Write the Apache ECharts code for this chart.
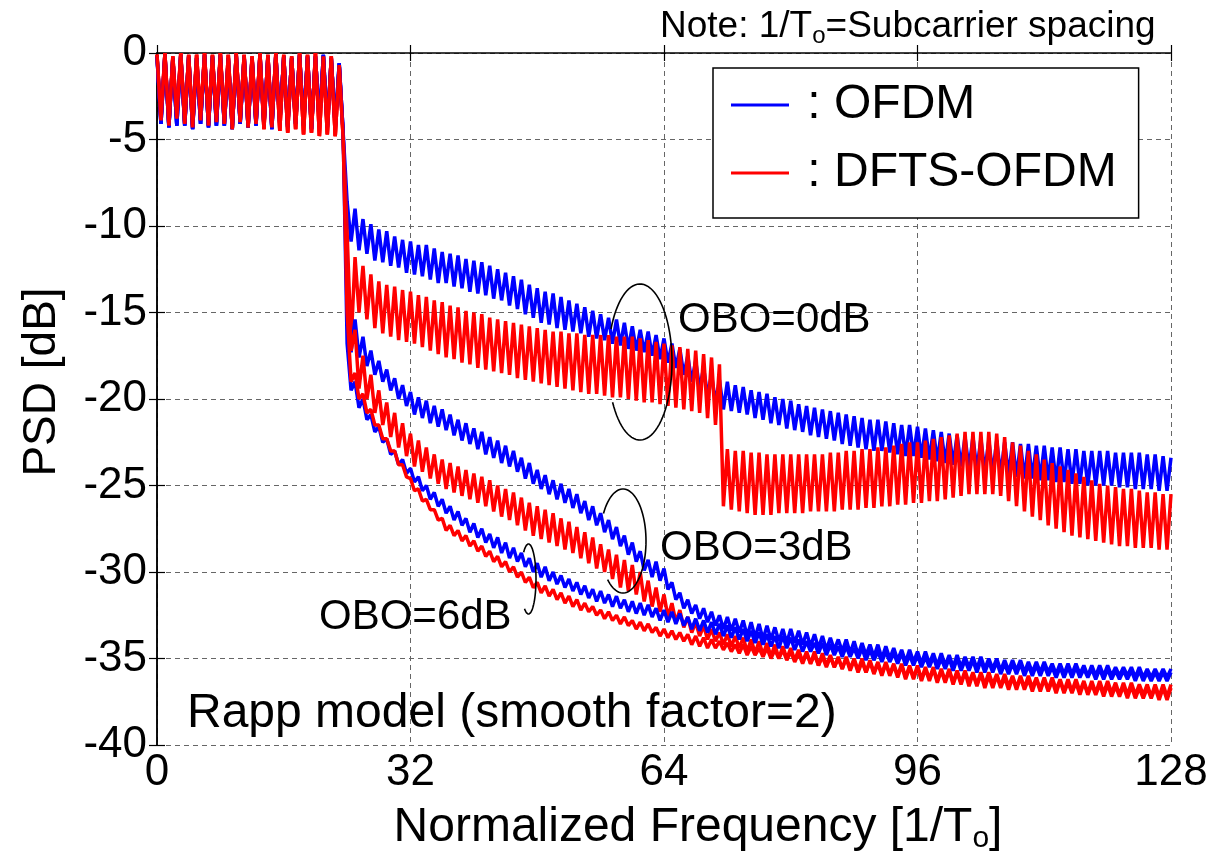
<!DOCTYPE html>
<html>
<head>
<meta charset="utf-8">
<title>PSD OFDM vs DFTS-OFDM</title>
<script src="https://cdn.jsdelivr.net/npm/echarts@6/dist/echarts.min.js"></script>
<style>
  html, body { margin: 0; padding: 0; background: #fff; }
  #chart { width: 1218px; height: 856px; }
</style>
</head>
<body>
<div id="chart"></div>
<script>
// sampling step along the normalized frequency axis [1/To]
const STEP = 0.5;

// in-band part, x = 0 .. 23.5 (shared by all OBO curves of one waveform)
const topOfdm = [
  -0.2,-4.1, -0.1,-4.3, -0.3,-4.2, -0.1,-4.2, -0.2,-4.4, -0.3,-4.1, -0.1,-4.3, -0.2,-4.2,
  -0.1,-4.2, -0.3,-4.4, -0.1,-4.1, -0.2,-4.3, -0.3,-4.2, -0.1,-4.2, -0.2,-4.4, -0.1,-4.1,
  -0.2,-4.3, -0.3,-4.1, -0.1,-4.2, -0.2,-4.4, -0.2,-4.1, -0.1,-4.3, -0.3,-4.3, -0.6,-4.6
];
const topDfts = [
  -0.1,-3.9, 0.0,-4.2, -0.2,-3.8, 0.0,-4.1, -0.1,-4.3, -0.1,-3.9, 0.0,-4.2, -0.1,-4.0,
  0.0,-4.1, -0.1,-4.4, 0.0,-4.0, -0.1,-4.3, -0.2,-4.1, 0.0,-4.4, -0.1,-4.3, 0.0,-4.5,
  -0.1,-4.6, -0.2,-4.4, 0.0,-4.7, -0.1,-4.6, 0.0,-4.8, -0.2,-4.7, -0.2,-4.8, -0.7,-4.9
];

// out-of-band part, x = 24 .. 128
const ofdm0 = [
  -8.6,-10.9, -9.0,-11.4, -9.6,-11.6, -9.9,-12.0, -10.2,-12.1, -10.3,-12.3, -10.6,-12.4, -10.8,-12.7,
  -10.9,-12.8, -11.1,-12.9, -11.1,-13.1, -11.3,-13.3, -11.5,-13.3, -11.6,-13.5, -11.7,-13.6, -11.9,-13.8,
  -12.0,-13.9, -12.1,-14.0, -12.3,-14.2, -12.5,-14.3, -12.7,-14.6, -12.9,-14.8, -13.1,-15.1, -13.4,-15.3,
  -13.6,-15.6, -13.8,-15.7, -13.9,-15.9, -14.1,-16.0, -14.3,-16.1, -14.5,-16.2, -14.7,-16.4, -14.9,-16.5,
  -15.1,-16.6, -15.3,-16.8, -15.4,-16.9, -15.6,-17.1, -15.8,-17.2, -16.0,-17.3, -16.1,-17.5, -16.3,-17.7,
  -16.5,-17.9, -16.8,-18.2, -17.1,-18.6, -17.5,-19.0, -17.8,-19.4, -18.2,-19.8, -18.6,-20.2, -18.9,-20.6,
  -19.0,-20.7, -19.2,-20.8, -19.3,-20.9, -19.5,-21.1, -19.6,-21.2, -19.7,-21.4, -19.9,-21.5, -20.0,-21.7,
  -20.1,-21.8, -20.3,-21.9, -20.4,-22.1, -20.5,-22.2, -20.6,-22.3, -20.7,-22.4, -20.8,-22.6, -20.9,-22.7,
  -21.0,-22.8, -21.1,-22.9, -21.2,-23.0, -21.2,-23.0, -21.3,-23.1, -21.4,-23.2, -21.5,-23.3, -21.5,-23.3,
  -21.6,-23.4, -21.7,-23.5, -21.8,-23.6, -21.9,-23.7, -22.0,-23.8, -22.1,-23.9, -22.2,-24.0, -22.2,-24.1,
  -22.3,-24.2, -22.4,-24.3, -22.4,-24.4, -22.5,-24.4, -22.5,-24.5, -22.6,-24.6, -22.6,-24.6, -22.7,-24.7,
  -22.7,-24.7, -22.8,-24.8, -22.8,-24.8, -22.9,-24.9, -22.9,-24.9, -23.0,-25.0, -23.0,-25.0, -23.0,-25.0,
  -23.0,-25.0, -23.1,-25.1, -23.1,-25.1, -23.1,-25.2, -23.1,-25.2, -23.2,-25.2, -23.2,-25.3, -23.3,-25.3,
  -23.4
];
const dfts0 = [
  -10.4,-16.8, -11.8,-15.0, -12.3,-15.4, -12.8,-15.9, -13.2,-16.2, -13.4,-16.4, -13.5,-16.6, -13.7,-16.7,
  -13.8,-16.8, -14.0,-17.0, -14.1,-17.2, -14.3,-17.4, -14.4,-17.6, -14.6,-17.7, -14.7,-17.9, -14.9,-18.0,
  -15.0,-18.2, -15.1,-18.3, -15.3,-18.4, -15.4,-18.5, -15.5,-18.6, -15.6,-18.8, -15.7,-18.9, -15.8,-19.0,
  -15.9,-19.1, -16.0,-19.2, -16.1,-19.3, -16.1,-19.4, -16.2,-19.5, -16.2,-19.6, -16.3,-19.7, -16.3,-19.7,
  -16.3,-19.8, -16.3,-19.9, -16.4,-19.9, -16.4,-20.0, -16.4,-20.1, -16.5,-20.2, -16.6,-20.2, -16.7,-20.3,
  -16.8,-20.4, -16.9,-20.5, -17.0,-20.6, -17.1,-20.7, -17.2,-20.8, -17.4,-21.1, -17.6,-21.5, -18.0,-26.2,
  -22.9,-26.4, -23.0,-26.5, -23.0,-26.6, -23.1,-26.7, -23.1,-26.7, -23.2,-26.7, -23.2,-26.6, -23.2,-26.6,
  -23.2,-26.6, -23.2,-26.6, -23.2,-26.5, -23.2,-26.5, -23.2,-26.5, -23.1,-26.5, -23.1,-26.4, -23.0,-26.4,
  -23.0,-26.4, -22.9,-26.3, -22.9,-26.3, -22.8,-26.2, -22.8,-26.2, -22.7,-26.1, -22.6,-26.1, -22.5,-26.0,
  -22.5,-26.0, -22.4,-25.9, -22.3,-25.9, -22.2,-25.8, -22.1,-25.7, -22.0,-25.6, -21.9,-25.5, -21.9,-25.5,
  -21.9,-25.5, -21.9,-25.5, -22.0,-25.6, -22.2,-25.9, -22.5,-26.2, -22.7,-26.5, -23.0,-26.8, -23.2,-27.0,
  -23.5,-27.3, -23.7,-27.5, -23.9,-27.7, -24.1,-27.9, -24.3,-28.0, -24.5,-28.1, -24.7,-28.2, -24.9,-28.3,
  -25.0,-28.4, -25.1,-28.5, -25.2,-28.5, -25.2,-28.6, -25.3,-28.6, -25.4,-28.6, -25.4,-28.7, -25.5,-28.7,
  -25.5
];
const ofdm3 = [
  -13.5,-17.3, -15.4,-17.6, -16.4,-18.1, -17.2,-18.6, -17.8,-19.0, -18.3,-19.5, -18.8,-20.0, -19.2,-20.4,
  -19.6,-20.9, -19.9,-21.1, -20.1,-21.4, -20.4,-21.6, -20.6,-21.8, -20.9,-22.1, -21.2,-22.4, -21.4,-22.6,
  -21.7,-22.9, -21.9,-23.2, -22.2,-23.4, -22.4,-23.7, -22.7,-23.9, -23.0,-24.2, -23.4,-24.6, -23.7,-24.9,
  -24.1,-25.2, -24.4,-25.5, -24.7,-25.8, -24.9,-26.0, -25.2,-26.3, -25.5,-26.6, -25.9,-27.0, -26.2,-27.3,
  -26.6,-27.7, -27.0,-28.1, -27.4,-28.5, -27.9,-29.0, -28.3,-29.4, -28.8,-29.9, -29.3,-30.3, -29.4,-30.5,
  -29.8,-31.0, -30.6,-31.6, -31.2,-32.1, -31.6,-32.4, -31.9,-32.7, -32.1,-32.9, -32.3,-33.1, -32.5,-33.3,
  -32.6,-33.4, -32.7,-33.5, -32.8,-33.7, -32.9,-33.8, -33.0,-33.9, -33.1,-33.9, -33.2,-34.0, -33.3,-34.1,
  -33.3,-34.1, -33.4,-34.2, -33.5,-34.3, -33.6,-34.4, -33.7,-34.5, -33.8,-34.5, -33.9,-34.6, -33.9,-34.7,
  -34.0,-34.8, -34.1,-34.8, -34.2,-34.9, -34.2,-35.0, -34.3,-35.0, -34.4,-35.1, -34.5,-35.2, -34.5,-35.2,
  -34.6,-35.3, -34.6,-35.3, -34.7,-35.4, -34.7,-35.4, -34.8,-35.5, -34.8,-35.5, -34.9,-35.5, -34.9,-35.6,
  -34.9,-35.6, -35.0,-35.6, -35.0,-35.7, -35.1,-35.7, -35.1,-35.7, -35.1,-35.8, -35.2,-35.8, -35.2,-35.8,
  -35.2,-35.8, -35.3,-35.9, -35.3,-35.9, -35.3,-35.9, -35.3,-35.9, -35.4,-36.0, -35.4,-36.0, -35.4,-36.0,
  -35.4,-36.0, -35.5,-36.0, -35.5,-36.0, -35.5,-36.1, -35.5,-36.1, -35.6,-36.1, -35.6,-36.1, -35.6,-36.1,
  -35.6
];
const dfts3 = [
  -12.0,-17.2, -16.0,-19.4, -17.5,-20.0, -18.6,-20.8, -19.5,-21.5, -20.2,-22.2, -20.8,-22.8, -21.4,-23.3,
  -22.0,-23.9, -22.4,-24.2, -22.8,-24.6, -23.2,-24.9, -23.5,-25.2, -23.7,-25.4, -23.9,-25.6, -24.1,-25.8,
  -24.3,-26.0, -24.5,-26.2, -24.7,-26.5, -25.0,-26.8, -25.2,-27.0, -25.4,-27.3, -25.7,-27.6, -26.0,-27.9,
  -26.2,-28.1, -26.4,-28.3, -26.6,-28.5, -26.9,-28.7, -27.1,-28.9, -27.4,-29.2, -27.7,-29.5, -28.0,-29.8,
  -28.4,-30.0, -28.7,-30.4, -29.0,-30.9, -29.3,-31.1, -29.6,-31.3, -30.0,-31.7, -30.5,-32.0, -30.9,-32.3,
  -31.3,-32.6, -31.8,-32.9, -32.2,-33.2, -32.6,-33.5, -32.9,-33.7, -33.1,-33.9, -33.3,-34.0, -33.5,-34.2,
  -33.6,-34.3, -33.7,-34.4, -33.8,-34.6, -33.9,-34.7, -34.0,-34.8, -34.1,-34.9, -34.2,-35.0, -34.3,-35.0,
  -34.4,-35.1, -34.5,-35.2, -34.6,-35.3, -34.6,-35.4, -34.7,-35.4, -34.8,-35.5, -34.9,-35.6, -34.9,-35.6,
  -35.0,-35.7, -35.0,-35.8, -35.1,-35.8, -35.2,-35.9, -35.2,-35.9, -35.3,-36.0, -35.3,-36.1, -35.4,-36.1,
  -35.4,-36.2, -35.5,-36.2, -35.5,-36.3, -35.6,-36.3, -35.6,-36.4, -35.7,-36.4, -35.7,-36.4, -35.8,-36.5,
  -35.8,-36.5, -35.8,-36.5, -35.9,-36.6, -35.9,-36.6, -36.0,-36.7, -36.0,-36.7, -36.0,-36.7, -36.1,-36.8,
  -36.1,-36.8, -36.1,-36.8, -36.2,-36.9, -36.2,-36.9, -36.2,-36.9, -36.3,-37.0, -36.3,-37.0, -36.3,-37.0,
  -36.3,-37.0, -36.4,-37.1, -36.4,-37.1, -36.4,-37.1, -36.5,-37.1, -36.5,-37.2, -36.5,-37.2, -36.5,-37.2,
  -36.5
];
const ofdm6 = [
  -16.8,-19.5, -19.0,-20.5, -20.0,-21.2, -20.9,-21.9, -21.6,-22.5, -22.3,-23.2, -23.0,-23.8, -23.5,-24.3,
  -24.0,-24.8, -24.5,-25.3, -25.0,-25.8, -25.4,-26.2, -25.8,-26.6, -26.2,-27.0, -26.5,-27.3, -26.9,-27.7,
  -27.2,-28.0, -27.5,-28.3, -27.8,-28.6, -28.0,-28.9, -28.3,-29.2, -28.6,-29.4, -28.9,-29.7, -29.2,-30.0,
  -29.5,-30.3, -29.7,-30.5, -30.0,-30.7, -30.2,-30.9, -30.4,-31.1, -30.6,-31.3, -30.8,-31.5, -31.0,-31.7,
  -31.1,-31.8, -31.3,-32.0, -31.4,-32.1, -31.6,-32.3, -31.7,-32.4, -31.8,-32.5, -31.9,-32.6, -32.1,-32.8,
  -32.2,-32.9, -32.3,-33.0, -32.4,-33.1, -32.6,-33.3, -32.7,-33.4, -32.8,-33.5, -32.9,-33.6, -33.0,-33.7,
  -33.1,-33.8, -33.2,-33.9, -33.3,-34.0, -33.4,-34.1, -33.5,-34.2, -33.6,-34.3, -33.7,-34.4, -33.7,-34.4,
  -33.8,-34.5, -33.9,-34.6, -34.0,-34.6, -34.1,-34.7, -34.1,-34.8, -34.2,-34.8, -34.3,-34.9, -34.3,-34.9,
  -34.4,-35.0, -34.4,-35.1, -34.5,-35.1, -34.6,-35.2, -34.6,-35.2, -34.7,-35.3, -34.7,-35.4, -34.8,-35.4,
  -34.8,-35.5, -34.9,-35.5, -34.9,-35.6, -35.0,-35.6, -35.0,-35.7, -35.0,-35.7, -35.1,-35.7, -35.1,-35.8,
  -35.1,-35.8, -35.2,-35.8, -35.2,-35.9, -35.3,-35.9, -35.3,-35.9, -35.3,-36.0, -35.4,-36.0, -35.4,-36.0,
  -35.4,-36.0, -35.5,-36.1, -35.5,-36.1, -35.5,-36.1, -35.5,-36.1, -35.6,-36.1, -35.6,-36.2, -35.6,-36.2,
  -35.6,-36.2, -35.7,-36.2, -35.7,-36.2, -35.7,-36.3, -35.7,-36.3, -35.8,-36.3, -35.8,-36.3, -35.8,-36.3,
  -35.8
];
const dfts6 = [
  -15.0,-19.0, -18.5,-20.0, -19.7,-20.8, -20.6,-21.5, -21.5,-22.3, -22.3,-23.0, -23.0,-23.8, -23.8,-24.5,
  -24.6,-25.3, -25.2,-25.9, -25.8,-26.4, -26.4,-27.0, -26.9,-27.6, -27.3,-27.9, -27.6,-28.2, -27.9,-28.5,
  -28.2,-28.8, -28.5,-29.1, -28.8,-29.4, -29.1,-29.7, -29.4,-30.0, -29.7,-30.3, -30.0,-30.6, -30.3,-30.9,
  -30.6,-31.2, -30.8,-31.4, -31.0,-31.6, -31.2,-31.8, -31.4,-32.0, -31.6,-32.2, -31.8,-32.3, -32.0,-32.5,
  -32.2,-32.7, -32.3,-32.8, -32.5,-33.0, -32.6,-33.1, -32.8,-33.3, -32.9,-33.4, -33.0,-33.5, -33.2,-33.7,
  -33.3,-33.8, -33.4,-33.9, -33.5,-34.0, -33.6,-34.2, -33.7,-34.3, -33.8,-34.4, -33.9,-34.4, -34.0,-34.5,
  -34.1,-34.6, -34.2,-34.7, -34.2,-34.8, -34.3,-34.8, -34.4,-34.9, -34.4,-35.0, -34.5,-35.0, -34.5,-35.1,
  -34.6,-35.2, -34.7,-35.3, -34.7,-35.3, -34.8,-35.4, -34.9,-35.5, -34.9,-35.5, -35.0,-35.6, -35.0,-35.7,
  -35.1,-35.8, -35.2,-35.8, -35.2,-35.9, -35.3,-36.0, -35.3,-36.0, -35.4,-36.1, -35.4,-36.2, -35.5,-36.2,
  -35.5,-36.3, -35.6,-36.3, -35.6,-36.4, -35.7,-36.4, -35.7,-36.5, -35.8,-36.5, -35.8,-36.6, -35.9,-36.6,
  -35.9,-36.7, -36.0,-36.7, -36.0,-36.7, -36.1,-36.8, -36.1,-36.8, -36.1,-36.8, -36.2,-36.9, -36.2,-36.9,
  -36.2,-36.9, -36.3,-37.0, -36.3,-37.0, -36.4,-37.0, -36.4,-37.1, -36.4,-37.1, -36.5,-37.1, -36.5,-37.2,
  -36.5,-37.2, -36.6,-37.2, -36.6,-37.3, -36.6,-37.3, -36.7,-37.3, -36.7,-37.3, -36.7,-37.4, -36.7,-37.4,
  -36.7
];

const xTicks = { min: 0, max: 128, interval: 32 };
const yTicks = { min: -40, max: 0, interval: 5 };

const FONT = "'Liberation Sans', Arial, Helvetica, sans-serif";
const BLUE = '#0000ff';
const RED = '#ff0000';

// build [x, y] pairs from the top part + out-of-band part
function toPoints(top, tail) {
  return top.concat(tail).map((v, i) => [i * STEP, v]);
}

function psdSeries(name, color, top, tail) {
  return {
    name: name,
    type: 'line',
    data: toPoints(top, tail),
    symbol: 'none',
    showSymbol: false,
    color: color,
    lineStyle: { color: color, width: 3.5 },
    silent: true,
    z: 3
  };
}

const chart = echarts.init(document.getElementById('chart'));

const axisLineStyle = { color: '#000', width: 1.5 };
const tickStyle = { show: true, inside: true, length: 8, lineStyle: { color: '#000', width: 1.2 } };
const gridLineStyle = { color: '#666', width: 1, type: [5, 4] };

// open ellipse (gap on the left) grouping the curves of one OBO value
function bracket(cx, cy, rx, ry, a0, a1) {
  const pts = [];
  const end = a1 < a0 ? a1 + 360 : a1;
  for (let a = a0; a <= end; a += 4) {
    const t = a * Math.PI / 180;
    pts.push([cx + rx * Math.cos(t), cy + ry * Math.sin(t)]);
  }
  return {
    type: 'polyline',
    shape: { points: pts, smooth: 0 },
    style: { stroke: '#000', lineWidth: 1.6, fill: null },
    z: 10
  };
}

function label(text, x, y, size) {
  return {
    type: 'text', x: x, y: y, z: 10,
    style: { text: text, fontSize: size, fontFamily: FONT, fill: '#000', align: 'left', verticalAlign: 'middle' }
  };
}

const option = {
  backgroundColor: '#fff',
  animation: false,
  grid: { left: 157, right: 47, top: 53, bottom: 111, containLabel: false },
  xAxis: [
    {
      type: 'value', min: xTicks.min, max: xTicks.max, interval: xTicks.interval,
      position: 'bottom',
      axisLine: { show: true, lineStyle: axisLineStyle },
      axisTick: tickStyle,
      axisLabel: { fontSize: 44, color: '#000', fontFamily: FONT, margin: 6 },
      splitLine: { show: true, lineStyle: gridLineStyle }
    },
    {
      type: 'value', min: xTicks.min, max: xTicks.max, interval: xTicks.interval,
      position: 'top',
      axisLine: { show: false },
      axisTick: tickStyle,
      axisLabel: { show: false },
      splitLine: { show: false }
    }
  ],
  yAxis: [
    {
      type: 'value', min: yTicks.min, max: yTicks.max, interval: yTicks.interval,
      position: 'left',
      axisLine: { show: true, lineStyle: axisLineStyle },
      axisTick: tickStyle,
      axisLabel: { fontSize: 44, color: '#000', fontFamily: FONT, margin: 10 },
      splitLine: { show: true, lineStyle: gridLineStyle }
    },
    {
      type: 'value', min: yTicks.min, max: yTicks.max, interval: yTicks.interval,
      position: 'right',
      axisLine: { show: true, lineStyle: axisLineStyle },
      axisTick: tickStyle,
      axisLabel: { show: false },
      splitLine: { show: false }
    }
  ],
  legend: {
    left: 713, top: 68, orient: 'vertical',
    selectedMode: false,
    data: [{ name: 'OFDM', icon: 'rect' }, { name: 'DFTS-OFDM', icon: 'rect' }],
    formatter: ' : {name}',
    itemWidth: 58, itemHeight: 3, itemGap: 12,
    padding: [9, 22, 17, 18],
    borderColor: '#000', borderWidth: 1.5, backgroundColor: '#fff',
    textStyle: { fontSize: 48, fontFamily: FONT, color: '#000', lineHeight: 56 },
    z: 20
  },
  series: [
    psdSeries('OFDM', BLUE, topOfdm, ofdm0),
    psdSeries('DFTS-OFDM', RED, topDfts, dfts0),
    psdSeries('OFDM', BLUE, topOfdm, ofdm3),
    psdSeries('DFTS-OFDM', RED, topDfts, dfts3),
    psdSeries('OFDM', BLUE, topOfdm, ofdm6),
    psdSeries('DFTS-OFDM', RED, topDfts, dfts6)
  ],
  graphic: [
    {
      type: 'text', x: 660, y: 27, z: 10,
      style: {
        text: '{a|Note: 1/T}{s|o}{a|=Subcarrier spacing}',
        verticalAlign: 'middle', align: 'left',
        rich: {
          a: { fontSize: 37, fontFamily: FONT, fill: '#000' },
          s: { fontSize: 24, fontFamily: FONT, fill: '#000', padding: [18, 0, 0, 0] }
        }
      }
    },
    {
      type: 'text', x: 698, y: 828, z: 10,
      style: {
        text: '{a|Normalized Frequency [1/T}{s|o}{a|]}',
        verticalAlign: 'middle', align: 'center',
        rich: {
          a: { fontSize: 48, fontFamily: FONT, fill: '#000' },
          s: { fontSize: 30, fontFamily: FONT, fill: '#000', padding: [22, 0, 0, 0] }
        }
      }
    },
    {
      type: 'text', x: 42, y: 382, rotation: Math.PI / 2, z: 10,
      style: { text: 'PSD [dB]', fontSize: 46, fontFamily: FONT, fill: '#000', align: 'center', verticalAlign: 'middle' }
    },
    label('OBO=0dB', 678, 320, 42),
    label('OBO=3dB', 660, 548, 42),
    label('OBO=6dB', 319, 617, 42),
    label('Rapp model (smooth factor=2)', 187, 714, 48),
    bracket(640, 362, 32, 78, 205, 150),
    bracket(623, 541, 23, 52, 212, 135),
    bracket(528.5, 579, 7.5, 35, 230, 125)
  ]
};

chart.setOption(option);
</script>
</body>
</html>
